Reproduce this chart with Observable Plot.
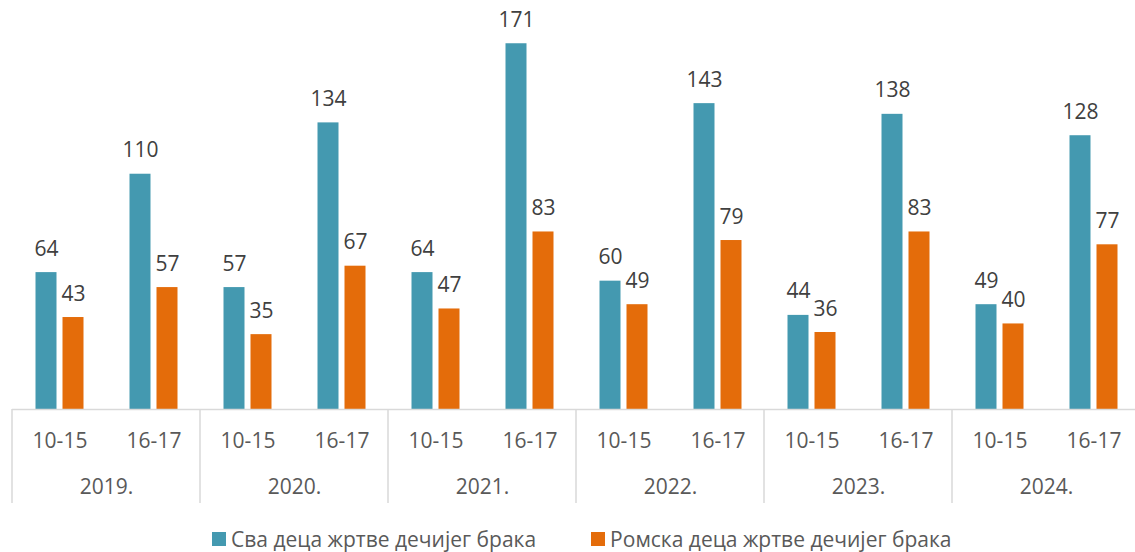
<!DOCTYPE html>
<html>
<head>
<meta charset="utf-8">
<script src="https://cdn.jsdelivr.net/npm/d3@7"></script>
<script src="https://cdn.jsdelivr.net/npm/@observablehq/plot@0.6"></script>
<style>
  body { margin: 0; background: #fff; font-family: "Open Sans", sans-serif; }
  #wrap { position: relative; width: 1135px; height: 552px; overflow: hidden; }
  #legend { position: absolute; top: 525px; left: 212px; display: flex; align-items: center; font-size: 21px; color: #595959; line-height: 28px; white-space: nowrap; }
  .item { display: flex; align-items: center; margin-right: 55px; }
  .sw { width: 14px; height: 14px; margin-right: 5px; }
</style>
</head>
<body>
<div id="wrap"><div id="chart"></div><div id="legend"></div></div>
<script>
const years = ["2019.", "2020.", "2021.", "2022.", "2023.", "2024."];
const ages = ["10-15", "16-17"];
const seriesNames = ["Сва деца жртве дечијег брака", "Ромска деца жртве дечијег брака"];
const seriesColors = ["#4499B0", "#E46C0A"];
// values in order: year by year, age 10-15 then 16-17
const allChildren = [64, 110, 57, 134, 64, 171, 60, 143, 44, 138, 49, 128];
const romaChildren = [43, 57, 35, 67, 47, 83, 49, 79, 36, 83, 40, 77];

const rows = [];
years.forEach((yr, i) => ages.forEach((ag, j) => {
  rows.push({year: yr, age: ag, series: seriesNames[0], value: allChildren[i * 2 + j]});
  rows.push({year: yr, age: ag, series: seriesNames[1], value: romaChildren[i * 2 + j]});
}));
const s0 = rows.filter(d => d.series === seriesNames[0]);
const s1 = rows.filter(d => d.series === seriesNames[1]);

const chart = Plot.plot({
  width: 1135,
  height: 515,
  marginLeft: 10,
  marginRight: -7,
  marginTop: 24,
  marginBottom: 106,
  style: {fontFamily: "Open Sans, sans-serif", background: "#fff", overflow: "visible"},
  fx: {domain: years, padding: 0, label: null},
  x: {domain: ages, paddingInner: 0.777, paddingOuter: 0.3885, label: null},
  y: {domain: [0, 180], axis: null},
  color: {domain: seriesNames, range: seriesColors},
  marks: [
    Plot.barY(s0, {fx: "year", x: "age", y: "value", fill: "series", dx: -13.5}),
    Plot.barY(s1, {fx: "year", x: "age", y: "value", fill: "series", dx: 13.5}),
    Plot.text(s0, {fx: "year", x: "age", y: "value", text: d => String(d.value), dx: -13.5, dy: -17, lineAnchor: "bottom", fontSize: 21, fill: "#404040"}),
    Plot.text(s1, {fx: "year", x: "age", y: "value", text: d => String(d.value), dx: 13.5, dy: -17, lineAnchor: "bottom", fontSize: 21, fill: "#404040"}),
    Plot.ruleY([0], {stroke: "#d9d9d9", strokeWidth: 1.5}),
    Plot.axisX({anchor: "bottom", tickSize: 0, tickPadding: 24, fontSize: 21, color: "#595959", label: null}),
    Plot.axisFx({anchor: "bottom", tickSize: 0, tickPadding: 70, fontSize: 21, color: "#595959", label: null})
  ]
});
document.getElementById("chart").appendChild(chart);

// group separators drawn from the library's scales
const fxs = chart.scale("fx");
const ys = chart.scale("y");
const y0 = ys.apply(0);
const svg = d3.select(chart);
const edges = years.map(y => fxs.apply(y)).concat([fxs.apply(years[years.length - 1]) + fxs.bandwidth]);
svg.append("g").selectAll("line").data(edges).join("line")
  .attr("x1", d => d).attr("x2", d => d)
  .attr("y1", y0).attr("y2", y0 + 94)
  .attr("stroke", "#d9d9d9").attr("stroke-width", 1.5);

const legend = d3.select("#legend");
seriesNames.forEach((n, i) => {
  const it = legend.append("div").attr("class", "item");
  it.append("div").attr("class", "sw").style("background", seriesColors[i]);
  it.append("span").text(n);
});
</script>
</body>
</html>
